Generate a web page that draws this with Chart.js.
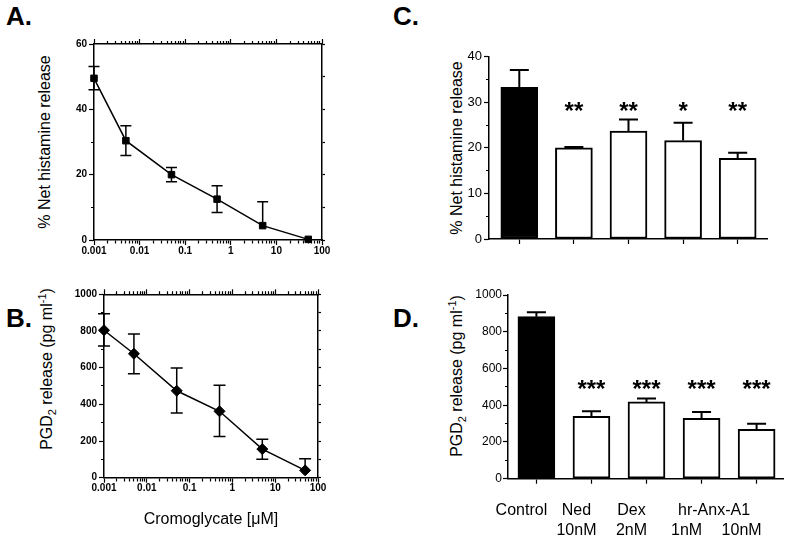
<!DOCTYPE html>
<html>
<head>
<meta charset="utf-8">
<script src="https://cdn.jsdelivr.net/npm/chart.js@4.4.1/dist/chart.umd.min.js"></script>
<style>
  html, body { margin: 0; padding: 0; background: #fff; }
  body { width: 788px; height: 538px; position: relative; overflow: hidden; font-family: 'Liberation Sans', Arial, sans-serif; color: #000; }
  canvas { position: absolute; }
  .panel { position: absolute; font-weight: bold; font-size: 26px; line-height: 26px; }
  .ytitle { position: absolute; font-size: 16px; line-height: 16px; white-space: nowrap; transform: translate(-50%, -50%) rotate(-90deg); }
  .ytitle sub, .ytitle sup { font-size: 11px; line-height: 0; }
</style>
</head>
<body>
<div class="panel" style="left:6px;top:3px">A.</div>
<div class="panel" style="left:6px;top:305px">B.</div>
<div class="panel" style="left:393px;top:3px">C.</div>
<div class="panel" style="left:393px;top:305px">D.</div>

<div class="ytitle" style="left:45px;top:142px">% Net histamine release</div>
<div class="ytitle" style="left:47px;top:369px">PGD<sub>2</sub> release (pg ml<sup>-1</sup>)</div>
<div class="ytitle" style="left:457px;top:148px">% Net histamine release</div>
<div class="ytitle" style="left:457px;top:376px">PGD<sub>2</sub> release (pg ml<sup>-1</sup>)</div>

<canvas id="chartA" width="340" height="262" style="left:0;top:0"></canvas>
<canvas id="chartB" width="340" height="276" style="left:0;top:262px"></canvas>
<canvas id="chartC" width="408" height="262" style="left:380px;top:0"></canvas>
<canvas id="chartD" width="408" height="276" style="left:380px;top:262px"></canvas>

<script>
// cromoglycate dose-response (panels A and B)
const doses = [0.001, 0.005, 0.05, 0.5, 5, 50];
const doseTicks = [0.001, 0.01, 0.1, 1, 10, 100];
const doseTickLabels = ['0.001', '0.01', '0.1', '1', '10', '100'];

const histRelease = [49.5, 30.4, 20.0, 12.5, 4.4, 0.2];
const histUpper = [53.1, 35.0, 22.2, 16.6, 11.7, 0.2];
const histLower = [46.0, 25.9, 17.8, 8.4, 4.4, 0.2];
const histTicks = [0, 20, 40, 60];

const pgdRelease = [804, 676, 474, 362, 156, 40];
const pgdUpper = [894, 784, 598, 504, 209, 104];
const pgdLower = [718, 567, 353, 224, 100, 40];
const pgdTicks = [0, 200, 400, 600, 800, 1000];

// treatments (panels C and D)
const treatments = ['Control', 'Ned', 'Dex', '', ''];
const concentrations = ['', '10nM', '2nM', '1nM', '10nM'];
const anxGroup = 'hr-Anx-A1';

const histBars = [33.3, 20.0, 23.7, 21.6, 17.7];
const histBarsUpper = [37.1, 20.2, 26.2, 25.5, 18.9];
const histStars = ['', '**', '**', '*', '**'];
const histBarTicks = [0, 10, 20, 30, 40];

const pgdBars = [882, 340, 418, 328, 269];
const pgdBarsUpper = [906, 367, 436, 363, 299];
const pgdStars = ['', '***', '***', '***', '***'];
const pgdBarTicks = [0, 200, 400, 600, 800, 1000];

const barFill = ['#000', '#fff', '#fff', '#fff', '#fff'];

const FONT = "'Liberation Sans', Arial, sans-serif";

const fixSize = (n) => (s) => {
  if (s.isHorizontal()) s.height = n;
  else s.width = n;
};

// short minor ticks: dash pattern keeps only the part next to the axis
const minorInner = [3, 100];
const minorOuter = [0, 2, 3, 100];

function logTicks() {
  const t = [];
  doseTicks.forEach((d, i) => {
    t.push({ value: d, major: true });
    if (i < doseTicks.length - 1) {
      for (let k = 2; k < 10; k++) t.push({ value: +(d * k).toPrecision(3), major: false });
    }
  });
  return t;
}

function logAxis(position, size, showLabels) {
  return {
    type: 'logarithmic',
    position,
    min: doseTicks[0],
    max: doseTicks[doseTicks.length - 1],
    afterBuildTicks: (s) => { s.ticks = logTicks(); },
    afterFit: fixSize(size),
    border: { color: '#000', width: 1.5 },
    grid: {
      drawOnChartArea: false, tickLength: 5, tickColor: '#000', tickWidth: 1.2,
      tickBorderDash: (ctx) => (ctx.tick && ctx.tick.major) ? [] : (position === 'bottom' ? minorInner : minorOuter)
    },
    ticks: {
      display: showLabels, autoSkip: false, maxRotation: 0, padding: 0, color: '#000',
      font: { family: FONT, size: 10, weight: 'bold' },
      callback: (v) => {
        const i = doseTicks.indexOf(v);
        return i >= 0 ? doseTickLabels[i] : '';
      }
    }
  };
}

function valueAxis(max, step, majors, width, labelFont, pad) {
  return {
    type: 'linear', position: 'left', min: 0, max,
    afterFit: fixSize(width),
    border: { color: '#000', width: 1.5 },
    grid: {
      drawOnChartArea: false, tickLength: 5, tickColor: '#000', tickWidth: 1.2,
      tickBorderDash: (ctx) => (ctx.tick && majors.includes(ctx.tick.value)) ? [] : minorOuter
    },
    ticks: {
      stepSize: step, padding: pad, color: '#000', font: labelFont,
      callback: (v) => majors.includes(v) ? String(v) : ''
    }
  };
}

function rightAxis(max, step, width) {
  return {
    type: 'linear', position: 'right', min: 0, max,
    afterFit: fixSize(width),
    border: { color: '#000', width: 1.5 },
    grid: { drawOnChartArea: false, tickLength: 3, tickColor: '#000', tickWidth: 1.2 },
    ticks: { display: false, stepSize: step }
  };
}

function categoryAxis(lo, hi, height) {
  return {
    type: 'linear', position: 'bottom', min: lo, max: hi, offset: false,
    afterBuildTicks: (s) => { s.ticks = treatments.map((_, i) => ({ value: i })); },
    afterFit: fixSize(height),
    border: { color: '#000', width: 1.5 },
    grid: { offset: false, drawOnChartArea: false, tickLength: 5, tickColor: '#000', tickWidth: 1.2 },
    ticks: { display: false }
  };
}

const errorBars = {
  id: 'errorBars',
  afterDatasetsDraw(chart, args, opts) {
    const ctx = chart.ctx;
    chart.data.datasets.forEach((ds, di) => {
      if (!ds.errHi) return;
      const meta = chart.getDatasetMeta(di);
      const ys = chart.scales[meta.yAxisID];
      const half = opts.capWidth / 2;
      ctx.save();
      ctx.strokeStyle = '#000';
      ctx.lineWidth = opts.lineWidth;
      meta.data.forEach((el, i) => {
        const mean = meta.controller.getParsed(i).y;
        const x = el.x;
        const top = ys.getPixelForValue(ds.errHi[i]);
        const bot = ys.getPixelForValue(ds.errLo[i]);
        ctx.beginPath();
        ctx.moveTo(x, top);
        ctx.lineTo(x, bot);
        if (ds.errHi[i] > mean) { ctx.moveTo(x - half, top); ctx.lineTo(x + half, top); }
        if (ds.errLo[i] < mean) { ctx.moveTo(x - half, bot); ctx.lineTo(x + half, bot); }
        ctx.stroke();
      });
      ctx.restore();
    });
  }
};

const starMarks = {
  id: 'starMarks',
  afterDatasetsDraw(chart, args, opts) {
    const ctx = chart.ctx;
    const ys = chart.scales.y;
    chart.data.datasets.forEach((ds, di) => {
      if (!ds.stars) return;
      const meta = chart.getDatasetMeta(di);
      ctx.save();
      ctx.font = 'bold 24px ' + FONT;
      ctx.fillStyle = '#000';
      ctx.textAlign = 'center';
      ctx.textBaseline = 'alphabetic';
      meta.data.forEach((el, i) => {
        if (ds.stars[i]) ctx.fillText(ds.stars[i], el.x, ys.getPixelForValue(opts.level));
      });
      ctx.restore();
    });
  }
};

const categoryLabels = {
  id: 'categoryLabels',
  afterDraw(chart, args, opts) {
    const ctx = chart.ctx;
    const xs = chart.scales.x;
    ctx.save();
    ctx.font = '16px ' + FONT;
    ctx.fillStyle = '#000';
    ctx.textAlign = 'center';
    ctx.textBaseline = 'alphabetic';
    [treatments, concentrations].forEach((row, r) => {
      row.forEach((txt, i) => {
        if (txt) ctx.fillText(txt, xs.getPixelForValue(i) + opts.shift, xs.top + opts.baseline + r * opts.lineGap);
      });
    });
    const gx = (xs.getPixelForValue(3) + xs.getPixelForValue(4)) / 2 + opts.shift;
    ctx.fillText(anxGroup, gx, xs.top + opts.baseline);
    ctx.restore();
  }
};

const common = {
  responsive: false,
  animation: false,
  devicePixelRatio: 1,
  events: []
};

const tickBold = { family: FONT, size: 10, weight: 'bold' };

// A: histamine release vs cromoglycate
new Chart(document.getElementById('chartA'), {
  type: 'line',
  data: {
    datasets: [{
      data: doses.map((d, i) => ({ x: d, y: histRelease[i] })),
      errHi: histUpper,
      errLo: histLower,
      borderColor: '#000',
      borderWidth: 1.5,
      pointStyle: 'rect',
      pointRadius: 4.6,
      pointBorderWidth: 1,
      pointBackgroundColor: '#000',
      pointBorderColor: '#000',
      tension: 0,
      clip: false
    }]
  },
  options: {
    ...common,
    layout: { padding: 0 },
    plugins: { legend: { display: false }, tooltip: { enabled: false }, errorBars: { capWidth: 11, lineWidth: 1.5 } },
    scales: {
      x: logAxis('bottom', 22, true),
      x2: logAxis('top', 44, false),
      y: valueAxis(60, 10, histTicks, 94, tickBold, 2),
      y2: rightAxis(60, 10, 18)
    }
  },
  plugins: [errorBars]
});

// B: PGD2 release vs cromoglycate
const xB = logAxis('bottom', 60.3, true);
xB.title = { display: true, text: 'Cromoglycate [μM]', color: '#000', font: { family: FONT, size: 16 }, padding: { top: 0, bottom: 9 } };

new Chart(document.getElementById('chartB'), {
  type: 'line',
  data: {
    datasets: [{
      data: doses.map((d, i) => ({ x: d, y: pgdRelease[i] })),
      errHi: pgdUpper,
      errLo: pgdLower,
      borderColor: '#000',
      borderWidth: 1.5,
      pointStyle: 'rectRot',
      pointRadius: 5.5,
      pointBorderWidth: 1,
      pointBackgroundColor: '#000',
      pointBorderColor: '#000',
      tension: 0,
      clip: false
    }]
  },
  options: {
    ...common,
    layout: { padding: 0 },
    plugins: { legend: { display: false }, tooltip: { enabled: false }, errorBars: { capWidth: 12, lineWidth: 1.5 } },
    scales: {
      x: xB,
      x2: logAxis('top', 32.3, false),
      y: valueAxis(1000, 100, pgdTicks, 104, tickBold, 2),
      y2: rightAxis(1000, 100, 22)
    }
  },
  plugins: [errorBars]
});

// C: histamine release by treatment
new Chart(document.getElementById('chartC'), {
  type: 'bar',
  data: {
    datasets: [{
      data: histBars.map((v, i) => ({ x: i, y: v })),
      errHi: histBarsUpper,
      errLo: histBars,
      stars: histStars,
      backgroundColor: barFill,
      borderColor: '#000',
      borderWidth: 2,
      borderSkipped: false,
      barThickness: 37
    }]
  },
  options: {
    ...common,
    layout: { padding: { top: 56.7, right: 21, left: 0, bottom: 0 } },
    plugins: {
      legend: { display: false }, tooltip: { enabled: false },
      errorBars: { capWidth: 19, lineWidth: 2 },
      starMarks: { level: 26.3 }
    },
    scales: {
      x: categoryAxis(-0.555, 4.537, 23),
      y: valueAxis(40, 5, histBarTicks, 109, { family: FONT, size: 13 }, 2)
    }
  },
  plugins: [errorBars, starMarks]
});

// D: PGD2 release by treatment
new Chart(document.getElementById('chartD'), {
  type: 'bar',
  data: {
    datasets: [{
      data: pgdBars.map((v, i) => ({ x: i, y: v })),
      errHi: pgdBarsUpper,
      errLo: pgdBars,
      stars: pgdStars,
      backgroundColor: barFill,
      borderColor: '#000',
      borderWidth: 2,
      borderSkipped: false,
      barThickness: 37
    }]
  },
  options: {
    ...common,
    layout: { padding: { top: 33, right: 4.7, left: 0, bottom: 0 } },
    plugins: {
      legend: { display: false }, tooltip: { enabled: false },
      errorBars: { capWidth: 19, lineWidth: 2 },
      starMarks: { level: 446 },
      categoryLabels: { shift: -15, baseline: 36.3, lineGap: 20 }
    },
    scales: {
      x: categoryAxis(-0.516, 4.485, 59.3),
      y: valueAxis(1000, 100, pgdBarTicks, 128, { family: FONT, size: 12 }, 1)
    }
  },
  plugins: [errorBars, starMarks, categoryLabels]
});
</script>
</body>
</html>
